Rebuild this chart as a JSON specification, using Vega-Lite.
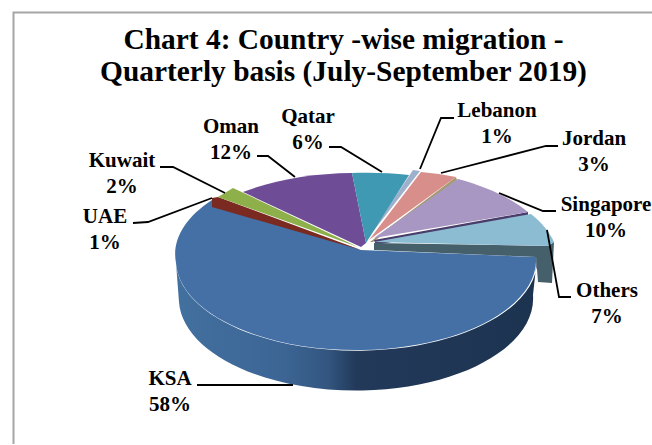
{
"$schema":"https://vega.github.io/schema/vega-lite/v6.json",
"width":652,"height":444,"autosize":"none","padding":0,
"background":"white",
"view":{"stroke":null},
"title":{"text":["Chart 4: Country -wise migration -","Quarterly basis (July-September 2019)"],"font":"Liberation Serif","fontSize":29.4,"fontWeight":"bold","color":"black","lineHeight":32,"anchor":"middle","orient":"top","frame":"group","dx":17.5,"offset":-110,"baseline":"alphabetic"},
"datasets":{"slices":[
{"country":"Lebanon","share":1},
{"country":"Jordan","share":3},
{"country":"Singapore","share":10},
{"country":"Others","share":7},
{"country":"KSA","share":58},
{"country":"UAE","share":1},
{"country":"Kuwait","share":2},
{"country":"Oman","share":12},
{"country":"Qatar","share":6}
]},
"data":{"name":"slices"},
"transform":[{"calculate":"datum.country + '\\n' + datum.share + '%'","as":"label"}],
"layer":[
{"data":{"values":[{"frame":"chart area"}]},"transform":[],
 "mark":{"type":"point","filled":false,"opacity":1,"size":4,"stroke":"#a6a6a6","strokeWidth":2,"shape":"M-312.5,222L-312.5,-209.5L326,-209.5"},"encoding":{}},
{"transform":[{"filter":{"field":"country","oneOf":["Others","Singapore","Jordan"]}}],
 "mark":{"type":"point","filled":true,"opacity":1,"size":4,"strokeWidth":0},
 "encoding":{
  "shape":{"field":"country","type":"nominal","legend":null,"scale":{"domain":["Others","Singapore","Jordan"],"range":["M48,21L222,24L228,20L226,61L212,60L210,35L48,28Z","M48,18L202,-10L202,-6L50,23Z","M44,20L130,-45L131,-42L47,20Z"]}},
  "color":{"field":"country","type":"nominal","legend":null,"scale":{"domain":["Others","Singapore","Jordan"],"range":["#45606b","#4a3d6b","#a59a70"]}}
 }},
{"transform":[{"filter":{"field":"country","equal":"KSA"}}],
 "mark":{"type":"point","opacity":1,"size":4,"strokeWidth":0,"filled":true,"shape":"M-150,41L-147,80A177 92 0 0 0 207,73L211,36A180 90 0 0 1 -150,41Z",
  "fill":{"x1":0,"y1":0,"x2":1,"y2":0,"gradient":"linear","stops":[{"offset":0,"color":"#42709f"},{"offset":0.3,"color":"#3c6594"},{"offset":0.42,"color":"#335680"},{"offset":0.5,"color":"#22395a"},{"offset":1,"color":"#1c3350"}]}},
 "encoding":{}},
{"mark":{"type":"point","filled":true,"opacity":1,"size":4,"strokeWidth":0},
 "encoding":{
  "shape":{"field":"country","type":"nominal","legend":null,"scale":{"domain":["Lebanon","Jordan","Singapore","Others","KSA","UAE","Kuwait","Oman","Qatar"],"range":[
   "M42,16L87,-52L94,-51Z",
   "M43,18L95,-50A182 90 0 0 1 130,-45Z",
   "M48,16L132,-43A182 90 0 0 1 202,-10Z",
   "M48,20L205,-8A182 90 0 0 1 228,20L222,24Z",
   "M35,28L210,35A180 90 0 0 1 -150,41A182 90 0 0 1 -114,-22Z",
   "M35,28L-114,-15L-114,-24L-108,-25Z",
   "M32,25L-108,-25L-93,-34Z",
   "M35,25L-83,-30A182 90 0 0 1 26,-49L40,21Z",
   "M40,21L26,-49A182 90 0 0 1 83,-47Z"]}},
  "color":{"field":"country","type":"nominal","legend":null,"scale":{"domain":["Lebanon","Jordan","Singapore","Others","KSA","UAE","Kuwait","Oman","Qatar"],"range":["#9db0cc","#d88e8a","#a797c2","#8cbcd2","#4470a5","#7b2a22","#8db04a","#6e4c96","#4099b3"]}}
 }},
{"mark":{"type":"point","filled":false,"opacity":1,"size":4,"strokeWidth":1.8},
 "encoding":{
  "shape":{"field":"country","type":"nominal","legend":null,"scale":{"domain":["Lebanon","Jordan","Singapore","Others","KSA","UAE","Kuwait","Oman","Qatar"],"range":[
   "M128,-104L115,-104L94,-53",
   "M232,-76L220,-76L115,-49",
   "M230,-11L217,-11L173,-29",
   "M221,8L233,75L245,75",
   "M-129,163L-33,163",
   "M-193,1L-178,0L-114,-24",
   "M-166,-55L-153,-55L-101,-29",
   "M-69,-66L-58,-66L-31,-45",
   "M3,-75L15,-75L56,-50"]}},
  "stroke":{"value":"black"}
 }},
{"transform":[{"filter":"datum.country==='Lebanon'"}],"mark":{"type":"text","font":"Liberation Serif","fontSize":21,"fontWeight":"bold","color":"black","lineBreak":"\n","lineHeight":26,"align":"center","baseline":"alphabetic","dx":171,"dy":-105},"encoding":{"text":{"field":"label","type":"nominal"}}},
{"transform":[{"filter":"datum.country==='Jordan'"}],"mark":{"type":"text","font":"Liberation Serif","fontSize":21,"fontWeight":"bold","color":"black","lineBreak":"\n","lineHeight":26,"align":"center","baseline":"alphabetic","dx":268,"dy":-77},"encoding":{"text":{"field":"label","type":"nominal"}}},
{"transform":[{"filter":"datum.country==='Singapore'"}],"mark":{"type":"text","font":"Liberation Serif","fontSize":21,"fontWeight":"bold","color":"black","lineBreak":"\n","lineHeight":26,"align":"center","baseline":"alphabetic","dx":280,"dy":-11},"encoding":{"text":{"field":"label","type":"nominal"}}},
{"transform":[{"filter":"datum.country==='Others'"}],"mark":{"type":"text","font":"Liberation Serif","fontSize":21,"fontWeight":"bold","color":"black","lineBreak":"\n","lineHeight":26,"align":"center","baseline":"alphabetic","dx":281,"dy":75},"encoding":{"text":{"field":"label","type":"nominal"}}},
{"transform":[{"filter":"datum.country==='KSA'"}],"mark":{"type":"text","font":"Liberation Serif","fontSize":21,"fontWeight":"bold","color":"black","lineBreak":"\n","lineHeight":26,"align":"center","baseline":"alphabetic","dx":-156,"dy":163},"encoding":{"text":{"field":"label","type":"nominal"}}},
{"transform":[{"filter":"datum.country==='UAE'"}],"mark":{"type":"text","font":"Liberation Serif","fontSize":21,"fontWeight":"bold","color":"black","lineBreak":"\n","lineHeight":26,"align":"center","baseline":"alphabetic","dx":-221,"dy":1},"encoding":{"text":{"field":"label","type":"nominal"}}},
{"transform":[{"filter":"datum.country==='Kuwait'"}],"mark":{"type":"text","font":"Liberation Serif","fontSize":21,"fontWeight":"bold","color":"black","lineBreak":"\n","lineHeight":26,"align":"center","baseline":"alphabetic","dx":-204,"dy":-55},"encoding":{"text":{"field":"label","type":"nominal"}}},
{"transform":[{"filter":"datum.country==='Oman'"}],"mark":{"type":"text","font":"Liberation Serif","fontSize":21,"fontWeight":"bold","color":"black","lineBreak":"\n","lineHeight":26,"align":"center","baseline":"alphabetic","dx":-95,"dy":-89},"encoding":{"text":{"field":"label","type":"nominal"}}},
{"transform":[{"filter":"datum.country==='Qatar'"}],"mark":{"type":"text","font":"Liberation Serif","fontSize":21,"fontWeight":"bold","color":"black","lineBreak":"\n","lineHeight":26,"align":"center","baseline":"alphabetic","dx":-18,"dy":-99},"encoding":{"text":{"field":"label","type":"nominal"}}}
],
"resolve":{"scale":{"shape":"independent","color":"independent"}}
}
